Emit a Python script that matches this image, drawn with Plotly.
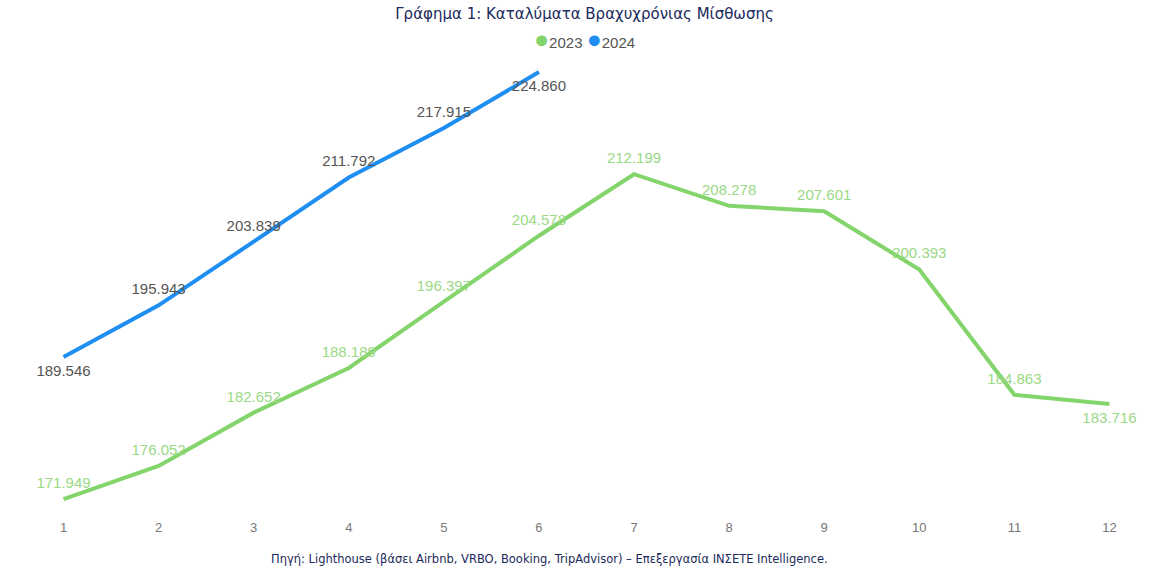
import plotly.graph_objects as go

months_2023 = [1, 2, 3, 4, 5, 6, 7, 8, 9, 10, 11, 12]
values_2023 = [171949, 176052, 182652, 188189, 196397, 204578, 212199, 208278, 207601, 200393, 184863, 183716]
months_2024 = [1, 2, 3, 4, 5, 6]
values_2024 = [189546, 195943, 203839, 211792, 217915, 224860]
pos_2023 = ["top center"] * 11 + ["bottom center"]
pos_2024 = ["bottom center", "top center", "top center", "top center", "top center", "bottom center"]
tick_vals = list(range(1, 13))
title_text = "Γράφημα 1: Καταλύματα Βραχυχρόνιας Μίσθωσης"
source_text = "Πηγή: Lighthouse (βάσει Airbnb, VRBO, Booking, TripAdvisor) – Επεξεργασία INΣΕΤΕ Intelligence."

green = "#84d46c"
blue = "#1f8ef1"
label_font = "Liberation Sans, Arial, sans-serif"

fig = go.Figure()
fig.add_trace(go.Scatter(
    x=months_2023, y=values_2023, name="2023", mode="lines+markers+text",
    line=dict(color=green, width=4),
    marker=dict(color=green, size=10, opacity=0),
    texttemplate="%{y:,.0f}", textposition=pos_2023,
    textfont=dict(family=label_font, size=15, color="#9ad985"),
    cliponaxis=False, showlegend=False,
))
fig.add_trace(go.Scatter(
    x=months_2024, y=values_2024, name="2024", mode="lines+markers+text",
    line=dict(color=blue, width=4),
    marker=dict(color=blue, size=10, opacity=0),
    texttemplate="%{y:,.0f}", textposition=pos_2024,
    textfont=dict(family=label_font, size=15, color="#555555"),
    cliponaxis=False, showlegend=False,
))

legend_html = (
    f"<span style='color:{green};font-size:25px'>●</span>2023 "
    f"<span style='color:{blue};font-size:25px'>●</span>2024"
)

fig.update_layout(
    width=1169, height=584,
    separators=",.",
    paper_bgcolor="white", plot_bgcolor="white",
    margin=dict(l=54, r=50, t=60, b=72),
    title=dict(text=title_text, x=0.5, xanchor="center", y=0.985, yanchor="top",
               font=dict(family="DejaVu Sans, Verdana, sans-serif", size=15, color="#1b2a5c")),
    showlegend=False,
    annotations=[
        dict(text=legend_html, xref="paper", yref="paper", x=0.498, y=1.047,
             xanchor="center", yanchor="middle", showarrow=False,
             font=dict(family=label_font, size=15, color="#555555")),
        dict(text=source_text, xref="paper", yref="paper", x=0.4653, y=-0.085,
             xanchor="center", yanchor="top", showarrow=False,
             font=dict(family="DejaVu Sans, Verdana, sans-serif", size=11.5, color="#1b2a5c")),
    ],
)
fig.update_xaxes(range=[0.9, 12.1], tickvals=tick_vals, showgrid=False, zeroline=False,
                 showline=False, ticks="", ticklabelstandoff=6,
                 tickfont=dict(family=label_font, size=13, color="#777777"))
fig.update_yaxes(range=[170340, 226350], visible=False, showgrid=False, zeroline=False)

fig.write_html("out.html", config={"displayModeBar": False},
               post_script="document.body.style.margin='0px';")
